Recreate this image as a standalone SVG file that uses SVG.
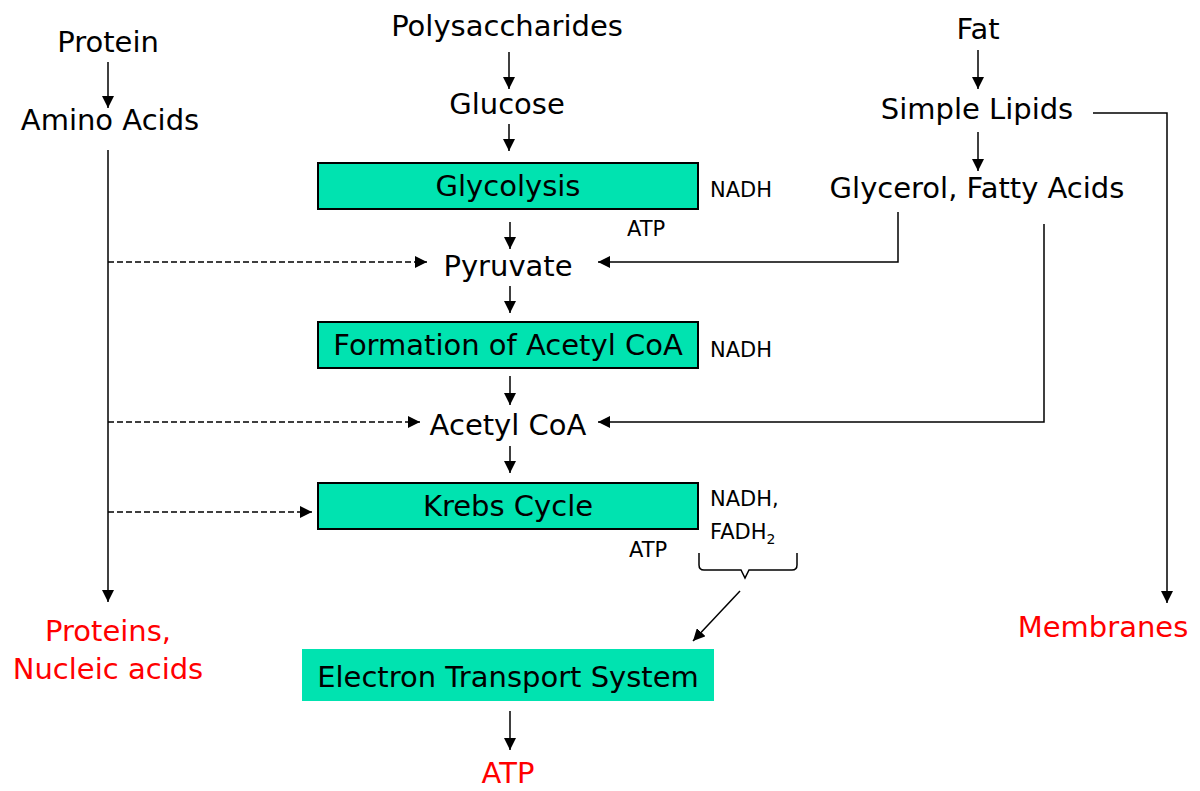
<svg xmlns="http://www.w3.org/2000/svg" width="1200" height="791" viewBox="0 0 1200 791">
<defs>
<marker id="ah" viewBox="0 0 10 10" refX="10" refY="5" markerWidth="12" markerHeight="12" markerUnits="userSpaceOnUse" orient="auto"><path d="M0,0 L10,5 L0,10 z" fill="#000"/></marker>
<style>
text{font-family:"DejaVu Sans",Tahoma,sans-serif;font-size:29px;fill:#000;text-anchor:middle}
.sm{font-size:21px;text-anchor:start}
.red{fill:#ff0000}
.box{fill:#00e3b0;stroke:#000;stroke-width:2}
.ln{stroke:#000;stroke-width:1.5;fill:none}
.dash{stroke:#000;stroke-width:1.5;fill:none;stroke-dasharray:6,3}
</style>
</defs>
<rect width="1200" height="791" fill="#fff"/>
<g id="connectors">
<path class="ln" d="M108,62 V108" marker-end="url(#ah)"/>
<path class="ln" d="M108,150 V602" marker-end="url(#ah)"/>
<path class="dash" d="M108,262 H427" marker-end="url(#ah)"/>
<path class="dash" d="M108,422 H420" marker-end="url(#ah)"/>
<path class="dash" d="M108,512 H312" marker-end="url(#ah)"/>
<path class="ln" d="M509,52 V89" marker-end="url(#ah)"/>
<path class="ln" d="M509,124 V151" marker-end="url(#ah)"/>
<path class="ln" d="M510,222 V249" marker-end="url(#ah)"/>
<path class="ln" d="M510,286 V313" marker-end="url(#ah)"/>
<path class="ln" d="M510,376 V405" marker-end="url(#ah)"/>
<path class="ln" d="M510,446 V473" marker-end="url(#ah)"/>
<path class="ln" d="M510,711 V750" marker-end="url(#ah)"/>
<path class="ln" d="M978,50 V89" marker-end="url(#ah)"/>
<path class="ln" d="M978,132 V171" marker-end="url(#ah)"/>
<path class="ln" d="M1093,113 H1167 V603" marker-end="url(#ah)"/>
<path class="ln" d="M898,212 V262 H598" marker-end="url(#ah)"/>
<path class="ln" d="M1044,224 V422 H598" marker-end="url(#ah)"/>
<path class="ln" d="M699,553 V565 Q699,570 704,570 H741 L745,578 L749,570 H792 Q797,570 797,565 V553"/>
<path class="ln" d="M740,591 L693,641" marker-end="url(#ah)"/>
</g>
<g id="protein"><text x="108" y="52">Protein</text></g>
<g id="amino"><text x="110" y="130">Amino Acids</text></g>
<g id="poly"><text x="507" y="36">Polysaccharides</text></g>
<g id="glucose"><text x="507" y="114">Glucose</text></g>
<g id="glycolysis"><rect class="box" x="318" y="163" width="380" height="46"/><text x="508" y="196">Glycolysis</text></g>
<g id="glyc-out"><text class="sm" x="710" y="197">NADH</text><text class="sm" x="627" y="236">ATP</text></g>
<g id="pyruvate"><text x="508" y="276">Pyruvate</text></g>
<g id="formation"><rect class="box" x="318" y="322" width="380" height="46"/><text x="508" y="355">Formation of Acetyl CoA</text></g>
<g id="form-out"><text class="sm" x="710" y="357">NADH</text></g>
<g id="acetyl"><text x="508" y="435">Acetyl CoA</text></g>
<g id="krebs"><rect class="box" x="318" y="483" width="380" height="46"/><text x="508" y="516">Krebs Cycle</text></g>
<g id="krebs-out"><text class="sm" x="710" y="506">NADH,</text><text class="sm" x="710" y="539">FADH<tspan font-size="14" dy="5">2</tspan></text><text class="sm" x="629" y="557">ATP</text></g>
<g id="ets"><rect x="302" y="649" width="412" height="52" fill="#00e3b0"/><text x="508" y="687">Electron Transport System</text></g>
<g id="atp"><text class="red" x="508" y="783">ATP</text></g>
<g id="proteins"><text class="red" x="108" y="641">Proteins,</text><text class="red" x="108" y="679">Nucleic acids</text></g>
<g id="fat"><text x="978" y="39">Fat</text></g>
<g id="lipids"><text x="977" y="119">Simple Lipids</text></g>
<g id="glycerol"><text x="977" y="198">Glycerol, Fatty Acids</text></g>
<g id="membranes"><text class="red" x="1103" y="637">Membranes</text></g>
</svg>
